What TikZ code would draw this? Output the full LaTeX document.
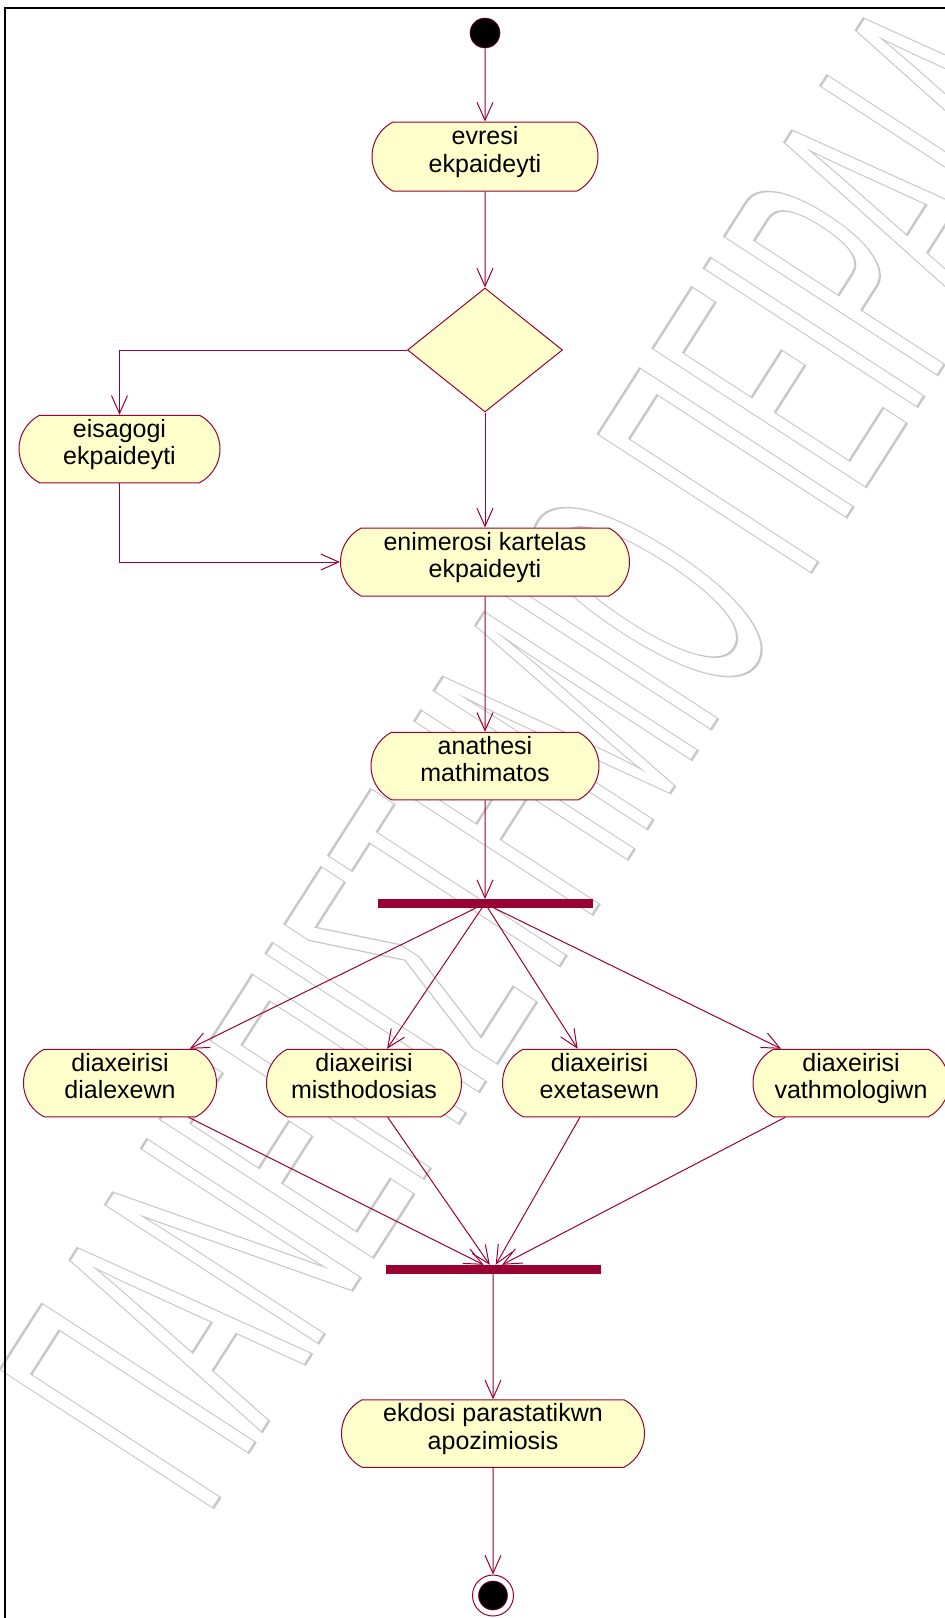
\documentclass[tikz,border=0pt]{standalone}
\usepackage{fontspec}
\setmainfont{Liberation Sans}
\usetikzlibrary{shapes.geometric,shapes.misc,arrows.meta}
\definecolor{umlred}{RGB}{153,0,51}
\definecolor{umlfill}{RGB}{255,255,204}
\definecolor{wmgray}{RGB}{200,200,200}
\newcommand\twol[2]{\rule{0pt}{22pt}#1\\#2\rule[-18pt]{0pt}{18pt}}
\newcommand\wmtext[1]{\special{pdf:literal direct 1 Tr 2.5 w}#1\special{pdf:literal direct 0 Tr}}
\begin{document}
\begin{tikzpicture}[x=1pt,y=-1pt,
  act/.style={rounded rectangle, rounded rectangle arc length=125, draw=umlred, fill=umlfill, line width=1pt, inner sep=0pt, align=center, font=\fontsize{25}{27.5}\selectfont, text=black},
  flow/.style={draw=umlred, line width=1pt, -{Straight Barb[length=18pt,width=16pt]}},
  barnode/.style={rectangle, fill=umlred, inner sep=0pt, minimum width=215pt},
  wmark/.style={anchor=base west, inner sep=0pt, cm={0.2047,0.3202,-0.8387,0.5446,(0,0)}, font=\fontsize{370}{400}\selectfont},
  ]
\useasboundingbox (0,0) rectangle (945,1618);
\clip (0,0) rectangle (945,1618);
% watermark
\node[wmark, text=wmgray] (wm) at (207,1518) {\wmtext{ΠΑΝΕΠΙΣΤΗΜΙΟ ΠΕΙΡΑΙΑ}};
% frame
\draw[line width=2.3pt] (5,1618) -- (5,8) -- (945,8);
% nodes
\node[circle, fill=black, draw=umlred, line width=0.6pt, minimum size=30pt, inner sep=0pt] (start) at (485,33) {};
\node[act, minimum width=226pt, minimum height=69pt] (evresi) at (485,156.5) {\twol{evresi}{ekpaideyti}};
\node[diamond, draw=umlred, fill=umlfill, line width=1pt, minimum width=155pt, minimum height=124pt, inner sep=0pt] (dec) at (485,350) {};
\node[act, minimum width=201pt, minimum height=60pt] (eis) at (119.5,449) {\twol{eisagogi}{ekpaideyti}};
\node[act, minimum width=289pt, minimum height=68pt] (enim) at (485,562) {\twol{enimerosi kartelas}{ekpaideyti}};
\node[act, minimum width=228pt, minimum height=63pt] (anath) at (485,766) {\twol{anathesi}{mathimatos}};
\node[barnode, minimum height=8.5pt] (fork) at (485,903.5) {};
\node[act, minimum width=193pt, minimum height=59pt] (dial) at (120,1083) {\twol{diaxeirisi}{dialexewn}};
\node[act, minimum width=195pt, minimum height=59pt] (misth) at (364,1083) {\twol{diaxeirisi}{misthodosias}};
\node[act, minimum width=194pt, minimum height=59pt] (exet) at (599.5,1083) {\twol{diaxeirisi}{exetasewn}};
\node[act, minimum width=196pt, minimum height=59pt] (vath) at (851,1083) {\twol{diaxeirisi}{vathmologiwn}};
\node[barnode, minimum height=9pt] (join) at (493,1269.5) {};
\node[act, minimum width=303pt, minimum height=67pt] (ekd) at (493,1433.5) {\twol{ekdosi parastatikwn}{apozimiosis}};
\node[circle, fill=white, draw=umlred, line width=1pt, minimum size=41pt, inner sep=0pt] (endo) at (493,1595.5) {};
\node[circle, fill=black, draw=umlred, line width=0.6pt, minimum size=29pt, inner sep=0pt] (endi) at (493,1595.5) {};
% connectors
\draw[flow] (start) -- (evresi);
\draw[flow] (evresi) -- (dec);
\draw[flow] (dec.west) -| (eis.north);
\draw[flow] (dec.south) -- (enim.north);
\draw[flow] (eis.south) |- (enim.west);
\draw[flow] (enim) -- (anath);
\draw[flow] (anath) -- (fork);
\foreach \n in {dial,misth,exet,vath} {
  \draw[flow] (fork) -- (\n);
  \draw[flow] (\n) -- (join);
}
\draw[flow] (join) -- (ekd);
\draw[flow] (ekd) -- (endo);
\end{tikzpicture}
\end{document}
